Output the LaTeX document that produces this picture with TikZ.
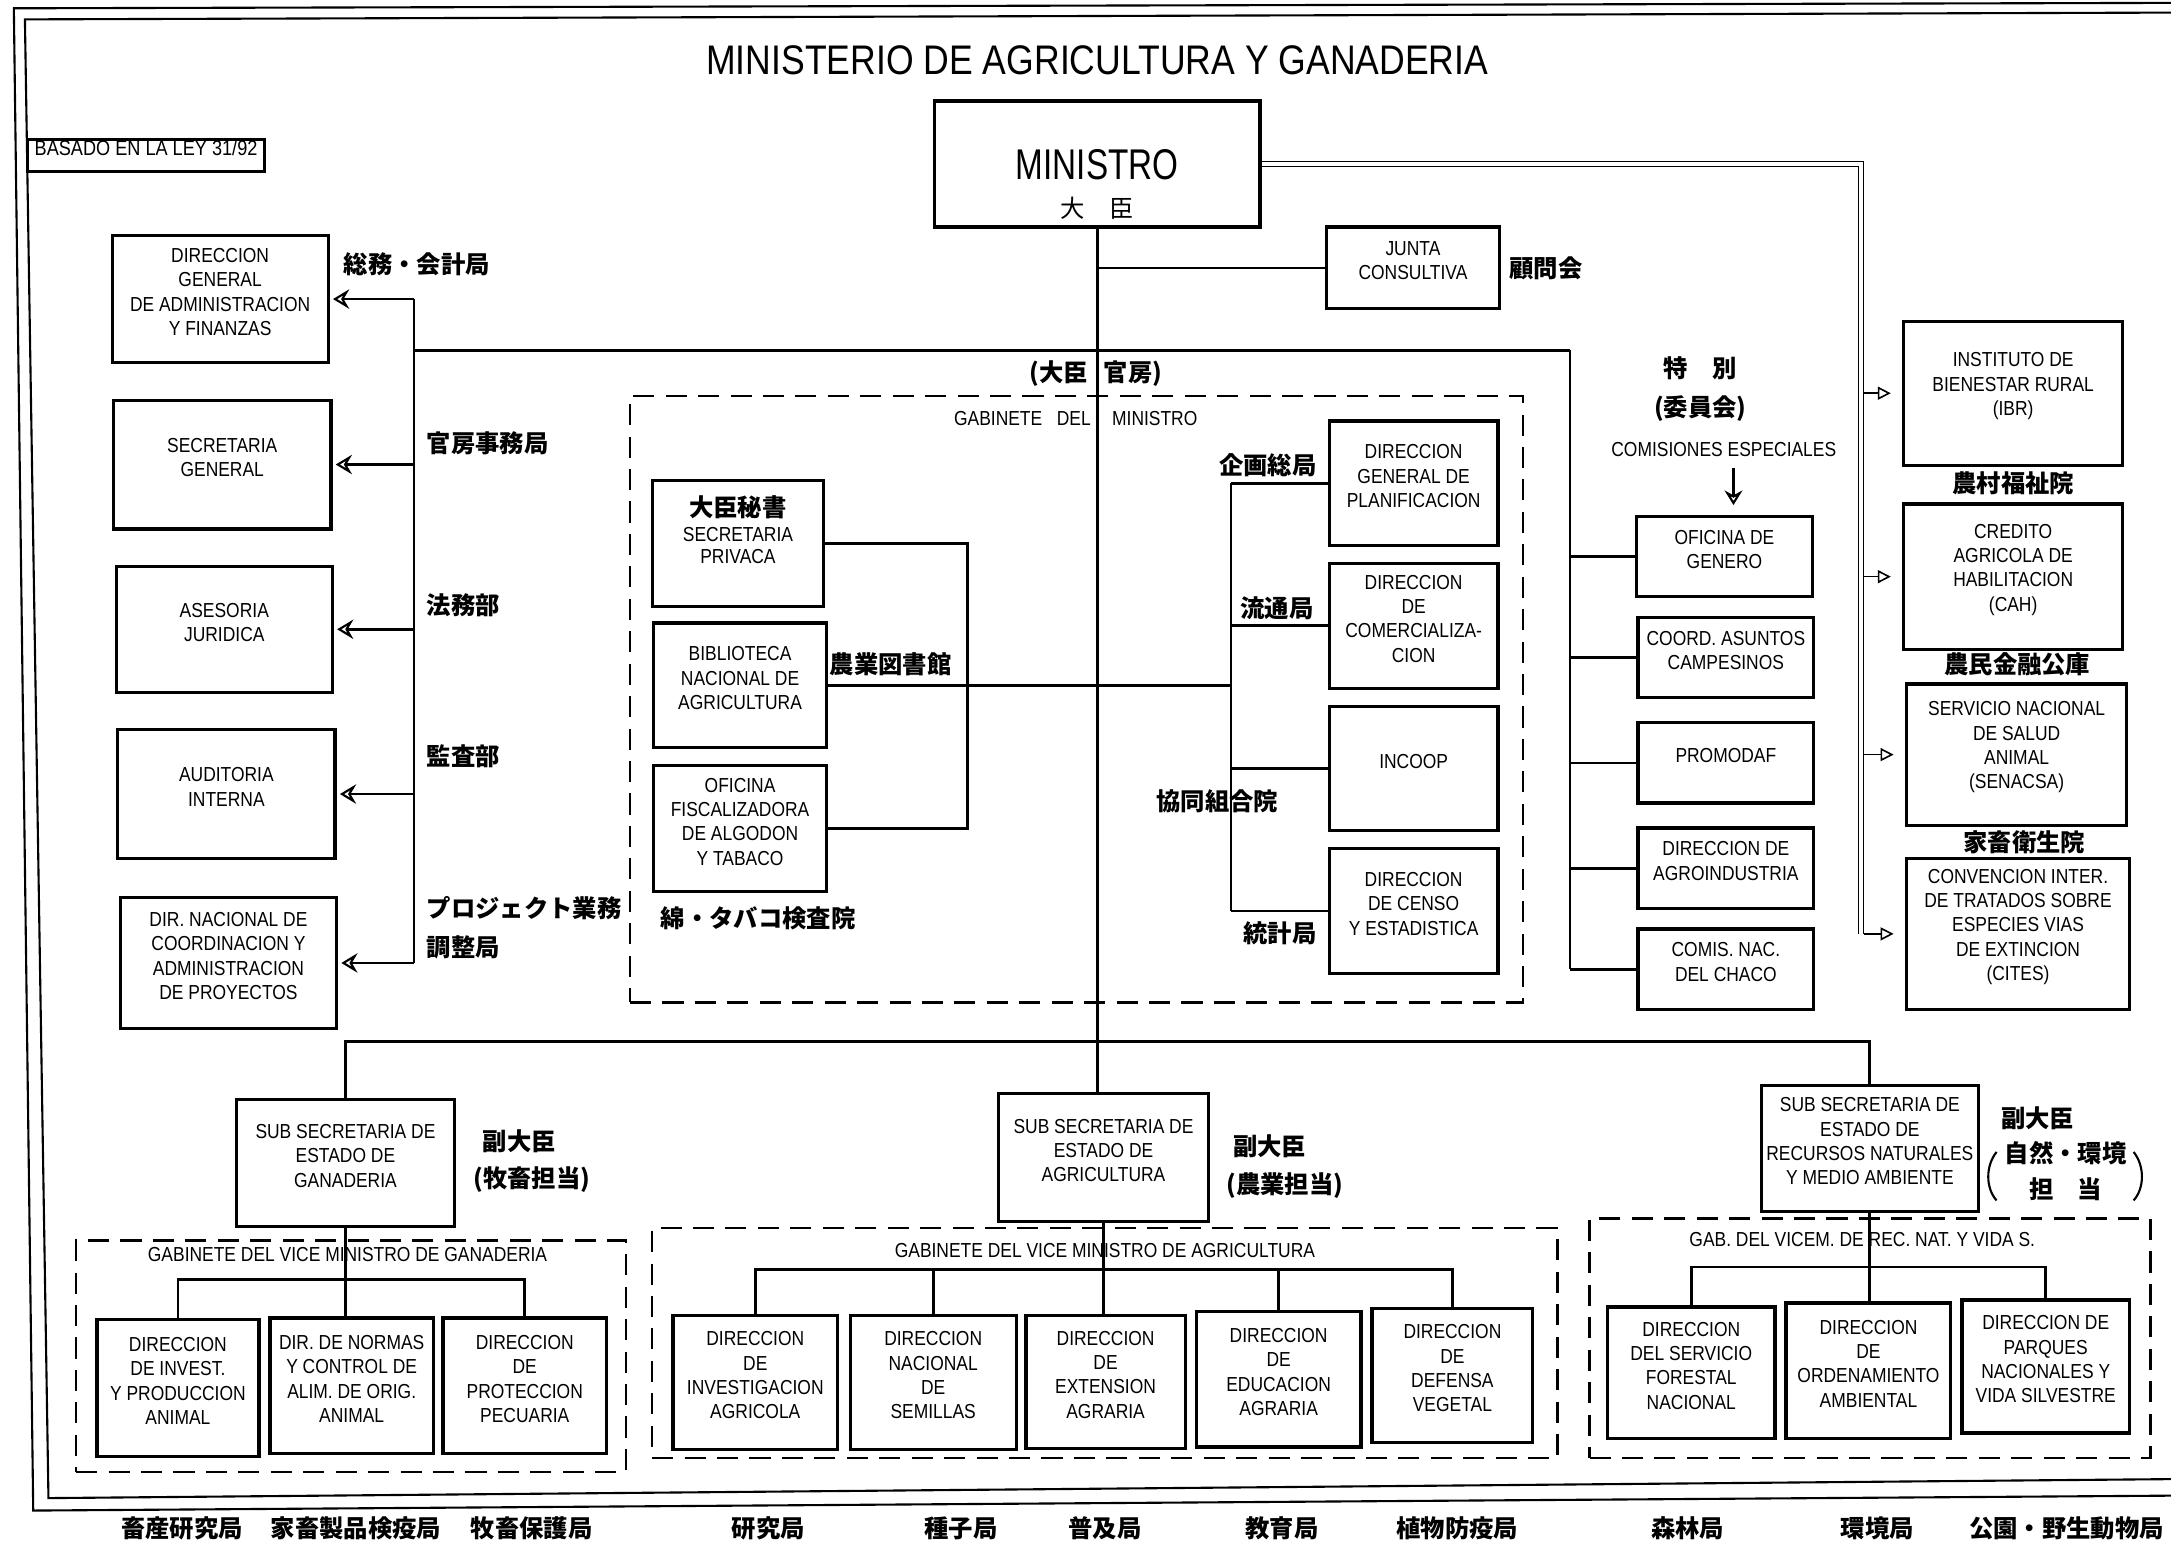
\documentclass[tikz,border=0pt]{standalone}
\usepackage{fontspec}
\setmainfont{Liberation Sans}
\newfontfamily\narrow[FakeStretch=0.86]{Liberation Sans}
\newfontfamily\cjk{Noto Sans CJK JP}
\usetikzlibrary{arrows.meta,fit}
\tikzset{
  obox/.style={draw, line width=2pt, inner sep=0pt, align=center, font=\narrow\fontsize{12.5}{15}\selectfont},
  dbox/.style={draw, line width=1.6pt, dash pattern=on 13pt off 7pt, inner sep=0pt},
  conn/.style={line width=1.7pt},
  dline/.style={double, double distance=2.2pt, line width=0.8pt},
  larr/.style={line width=1.7pt, -{Stealth[open,length=10pt,width=12pt,inset=3.5pt,line width=1.3pt]}, shorten >=2pt},
  darr/.style={line width=1.5pt, -{Stealth[open,length=9pt,width=11pt,inset=3pt,line width=1.3pt]}, shorten >=6pt},
  rarr/.style={line width=1pt, -{Triangle[open,length=8pt,width=8pt,line width=1pt]}, shorten >=7pt},
  lab/.style={font=\cjk\bfseries\fontsize{15}{18}\selectfont, inner sep=0pt},
  sm/.style={font=\narrow\fontsize{12.5}{15}\selectfont, inner sep=0pt, align=center},
  gl/.style={font=\narrow\fontsize{12.5}{14}\selectfont, inner sep=0pt},
  framel/.style={line width=1.3pt}
}
\begin{document}
\begin{tikzpicture}[x=0.3mm,y=-0.3mm]
\useasboundingbox (0,0) rectangle (1568,1117);

% outer frame (double)
\draw[framel] (1600,2) -- (10,6) -- (24,1091) -- (1600,1080);
\draw[framel] (1600,9) -- (18,14) -- (35,1082) -- (1600,1068);

% title
\node[font=\narrow\fontsize{25.5}{29}\selectfont, inner sep=0pt] (title) at (792.5,43.5) {MINISTERIO DE AGRICULTURA Y GANADERIA};
\node[obox, fit={(20,101)(191,124)}, font=\narrow\fontsize{13}{14}\selectfont] (basado) {BASADO EN LA LEY 31/92};

% minister
\node[obox, fit={(675,73)(910,164)}] (min) {};
\node[font=\narrow\fontsize{26.5}{30}\selectfont, inner sep=0pt] (mint) at (792.5,119) {\scalebox{0.9}[1]{MINISTRO}};
\node[font=\cjk\fontsize{15}{18}\selectfont, inner sep=0pt] (mink) at (792.5,150.5) {大　臣};

\node[obox, fit={(958,164)(1083,223)}] (junta) {JUNTA\\CONSULTIVA};
\node[lab, anchor=west] (l13) at (1090,194) {顧問会};

% left column
\node[obox, fit={(81,170)(237,262)}] (dgaf) {DIRECCION\\GENERAL\\DE ADMINISTRACION\\Y FINANZAS};
\node[obox, fit={(82,289)(239,382)}] (secg) {SECRETARIA\\GENERAL};
\node[obox, fit={(84,409)(240,500)}] (asej) {ASESORIA\\JURIDICA};
\node[obox, fit={(85,527)(242,620)}] (audi) {AUDITORIA\\INTERNA};
\node[obox, fit={(87,648)(243,743)}] (dnac) {DIR. NACIONAL DE\\COORDINACION Y\\ADMINISTRACION\\DE PROYECTOS};

\node[lab, anchor=west] (l1) at (248,191) {総務・会計局};
\node[lab, anchor=west] (l2) at (308,320) {官房事務局};
\node[lab, anchor=west] (l3) at (308,437) {法務部};
\node[lab, anchor=west] (l4) at (308,546) {監査部};
\node[lab, anchor=west] (l5) at (308,656) {プロジェクト業務};
\node[lab, anchor=west] (l6) at (308,684) {調整局};

% cabinet of minister
\node[dbox, fit={(455,286)(1100,724)}] (gabm) {};
\node[lab, anchor=east] (kb1) at (786,270) {(大臣};
\node[lab, anchor=west] (kb2) at (797,270) {官房)};
\node[gl, anchor=east] (gm1) at (788,302) {GABINETE\ \ \ DEL};
\node[gl, anchor=west] (gm2) at (803,302) {MINISTRO};

\node[obox, fit={(471,347)(595,438)}] (sp) {};
\node[lab] (sp1) at (533,366) {大臣秘書};
\node[sm] (sp2) at (533,386) {SECRETARIA};
\node[sm] (sp3) at (533,402) {PRIVACA};
\node[obox, fit={(472,450)(597,540)}] (bib) {BIBLIOTECA\\NACIONAL DE\\AGRICULTURA};
\node[obox, fit={(472,553)(597,644)}] (ofi) {OFICINA\\FISCALIZADORA\\DE ALGODON\\Y TABACO};
\node[lab, anchor=west] (l7) at (599,480) {農業図書館};
\node[lab, anchor=west] (l8) at (477,663) {綿・タバコ検査院};

\node[obox, fit={(960,304)(1082,394)}] (plan) {DIRECCION\\GENERAL DE\\PLANIFICACION};
\node[obox, fit={(960,407)(1082,497)}] (come) {DIRECCION\\DE\\COMERCIALIZA-\\CION};
\node[obox, fit={(960,510)(1082,600)}] (inco) {INCOOP};
\node[obox, fit={(960,613)(1082,703)}] (cens) {DIRECCION\\DE CENSO\\Y ESTADISTICA};
\node[lab, anchor=east] (l9) at (951,336) {企画総局};
\node[lab, anchor=east] (l10) at (949,439) {流通局};
\node[lab, anchor=west] (l11) at (835,579) {協同組合院};
\node[lab, anchor=east] (l12) at (951,674) {統計局};

% special commissions
\node[lab] (l14) at (1228,266) {特　別};
\node[lab] (l15) at (1228,295) {(委員会)};
\node[sm] (cesp) at (1245,324.5) {COMISIONES ESPECIALES};
\node[obox, fit={(1182,373)(1309,431)}] (ofg) {OFICINA DE\\GENERO};
\node[obox, fit={(1183,446)(1310,504)}] (coord) {COORD. ASUNTOS\\CAMPESINOS};
\node[obox, fit={(1183,522)(1310,580)}] (promo) {PROMODAF};
\node[obox, fit={(1183,598)(1310,656)}] (agro) {DIRECCION DE\\AGROINDUSTRIA};
\node[obox, fit={(1183,671)(1310,729)}] (comis) {COMIS. NAC.\\DEL CHACO};

% right institutions
\node[obox, fit={(1375,232)(1533,336)}] (inst) {INSTITUTO DE\\BIENESTAR RURAL\\(IBR)};
\node[obox, fit={(1375,364)(1533,469)}] (cred) {CREDITO\\AGRICOLA DE\\HABILITACION\\(CAH)};
\node[obox, fit={(1377,494)(1536,596)}] (serv) {SERVICIO NACIONAL\\DE SALUD\\ANIMAL\\(SENACSA)};
\node[obox, fit={(1377,620)(1538,729)}] (conv) {CONVENCION INTER.\\DE TRATADOS SOBRE\\ESPECIES VIAS\\DE EXTINCION\\(CITES)};
\node[lab] (l16) at (1454,349) {農村福祉院};
\node[lab] (l17) at (1457,480) {農民金融公庫};
\node[lab] (l18) at (1462,608) {家畜衛生院};

% sub secretariats
\node[obox, fit={(171,794)(328,886)}] (subg) {SUB SECRETARIA DE\\ESTADO DE\\GANADERIA};
\node[obox, fit={(721,790)(873,882)}] (suba) {SUB SECRETARIA DE\\ESTADO DE\\AGRICULTURA};
\node[obox, fit={(1272,784)(1429,875)}] (subr) {SUB SECRETARIA DE\\ESTADO DE\\RECURSOS NATURALES\\Y MEDIO AMBIENTE};
\node[lab] (v1) at (375,824.5) {副大臣};
\node[lab] (v2) at (384,852) {(牧畜担当)};
\node[lab] (v3) at (917,828) {副大臣};
\node[lab] (v4) at (928,856) {(農業担当)};
\node[lab, anchor=west] (v5) at (1445,808) {副大臣};
\node[lab] (v6) at (1492,833) {自然・環境};
\node[lab] (v7) at (1492,859) {担　当};
\draw[line width=1.3pt] (1442,832) .. controls (1434,842) and (1434,858) .. (1442,867);
\draw[line width=1.3pt] (1541,832) .. controls (1549,842) and (1549,858) .. (1541,867);

% vice-minister cabinets
\node[dbox, fit={(55,896)(452,1063)}] (gabg) {};
\node[dbox, fit={(471,887)(1125,1053)}] (gaba) {};
\node[dbox, fit={(1148,880)(1553,1053)}] (gabr) {};
\node[gl] (gg) at (251,906) {GABINETE DEL VICE MINISTRO DE GANADERIA};
\node[gl] (ga) at (798,903) {GABINETE DEL VICE MINISTRO DE AGRICULTURA};
\node[gl] (gr0) at (1345,895.5) {GAB. DEL VICEM. DE REC. NAT. Y VIDA S.};

\node[obox, fit={(70,953)(187,1052)}] (g1) {DIRECCION\\DE INVEST.\\Y PRODUCCION\\ANIMAL};
\node[obox, fit={(195,952)(313,1050)}] (g2) {DIR. DE NORMAS\\Y CONTROL DE\\ALIM. DE ORIG.\\ANIMAL};
\node[obox, fit={(320,952)(438,1050)}] (g3) {DIRECCION\\DE\\PROTECCION\\PECUARIA};

\node[obox, fit={(486,950)(605,1047)}] (a1) {DIRECCION\\DE\\INVESTIGACION\\AGRICOLA};
\node[obox, fit={(614,950)(734,1047)}] (a2) {DIRECCION\\NACIONAL\\DE\\SEMILLAS};
\node[obox, fit={(741,950)(856,1046)}] (a3) {DIRECCION\\DE\\EXTENSION\\AGRARIA};
\node[obox, fit={(864,947)(983,1045)}] (a4) {DIRECCION\\DE\\EDUCACION\\AGRARIA};
\node[obox, fit={(991,945)(1107,1042)}] (a5) {DIRECCION\\DE\\DEFENSA\\VEGETAL};

\node[obox, fit={(1161,944)(1282,1039)}] (r1) {DIRECCION\\DEL SERVICIO\\FORESTAL\\NACIONAL};
\node[obox, fit={(1290,941)(1409,1039)}] (r2) {DIRECCION\\DE\\ORDENAMIENTO\\AMBIENTAL};
\node[obox, fit={(1417,939)(1538,1035)}] (r3) {DIRECCION DE\\PARQUES\\NACIONALES Y\\VIDA SILVESTRE};

% bottom labels
\node[lab] (b1) at (131.5,1104) {畜産研究局};
\node[lab] (b2) at (257,1104) {家畜製品検疫局};
\node[lab] (b3) at (384,1104) {牧畜保護局};
\node[lab] (b4) at (555,1104) {研究局};
\node[lab] (b5) at (694,1104) {種子局};
\node[lab] (b6) at (798,1104) {普及局};
\node[lab] (b7) at (926,1104) {教育局};
\node[lab] (b8) at (1052.5,1104) {植物防疫局};
\node[lab] (b9) at (1219,1104) {森林局};
\node[lab] (b10) at (1356,1104) {環境局};
\node[lab] (b11) at (1492.5,1104) {公園・野生動物局};

% helper coordinates
\coordinate (gl) at (299,253);
\coordinate (gr) at (1134,253);
\coordinate (lb) at (698.6,0);
\coordinate (rb) at (889,0);
\coordinate (dv) at (1344,0);
\coordinate (dvr) at (1346,0);
\coordinate (hb) at (0,752);
\coordinate (bgg) at (0,924);
\coordinate (bga) at (0,917);
\coordinate (bgr) at (0,915);
\coordinate (comtop) at (1252,338);

% connectors
\draw[conn] (min.south) -- (min.south |- suba.north);
\draw[conn] (min.south |- junta.west) -- (junta.west);
\draw[conn] (gl) -- (gr);
\draw[conn] (gl |- dgaf.east) -- (gl |- dnac.east);
\foreach \n in {dgaf,secg,asej,audi,dnac} \draw[larr] (gl |- \n.east) -- (\n.east);
\draw[conn] (gr) -- (gr |- comis.west);
\foreach \n in {ofg,coord,promo,agro,comis} \draw[conn] (gr |- \n.west) -- (\n.west);
\draw[darr] (comtop) -- (comtop |- ofg.north);

\draw[dline] (min.east) -| (dv |- conv.west);
\foreach \n in {inst,cred,serv,conv} \draw[rarr] (dvr |- \n.west) -- (\n.west);

\draw[conn] (sp.east) -| (lb |- ofi.east) -- (ofi.east);
\draw[conn] (bib.east) -- (rb |- bib.east);
\draw[conn] (rb |- plan.west) -- (rb |- cens.west);
\foreach \n in {plan,come,inco,cens} \draw[conn] (rb |- \n.west) -- (\n.west);

\draw[conn] (subg.north) -- (subg.north |- hb) -- (subr.north |- hb) -- (subr.north);

\draw[conn] (subg.south) -- (subg.south |- g2.north);
\draw[conn] (g1.north) -- (g1.north |- bgg) -- (g3.north |- bgg) -- (g3.north);

\draw[conn] (suba.south) -- (suba.south |- a3.north);
\draw[conn] (a1.north) -- (a1.north |- bga) -- (a5.north |- bga) -- (a5.north);
\draw[conn] (a2.north |- bga) -- (a2.north);
\draw[conn] (a4.north |- bga) -- (a4.north);

\draw[conn] (subr.south) -- (subr.south |- r2.north);
\draw[conn] (r1.north) -- (r1.north |- bgr) -- (r3.north |- bgr) -- (r3.north);
\end{tikzpicture}
\end{document}
